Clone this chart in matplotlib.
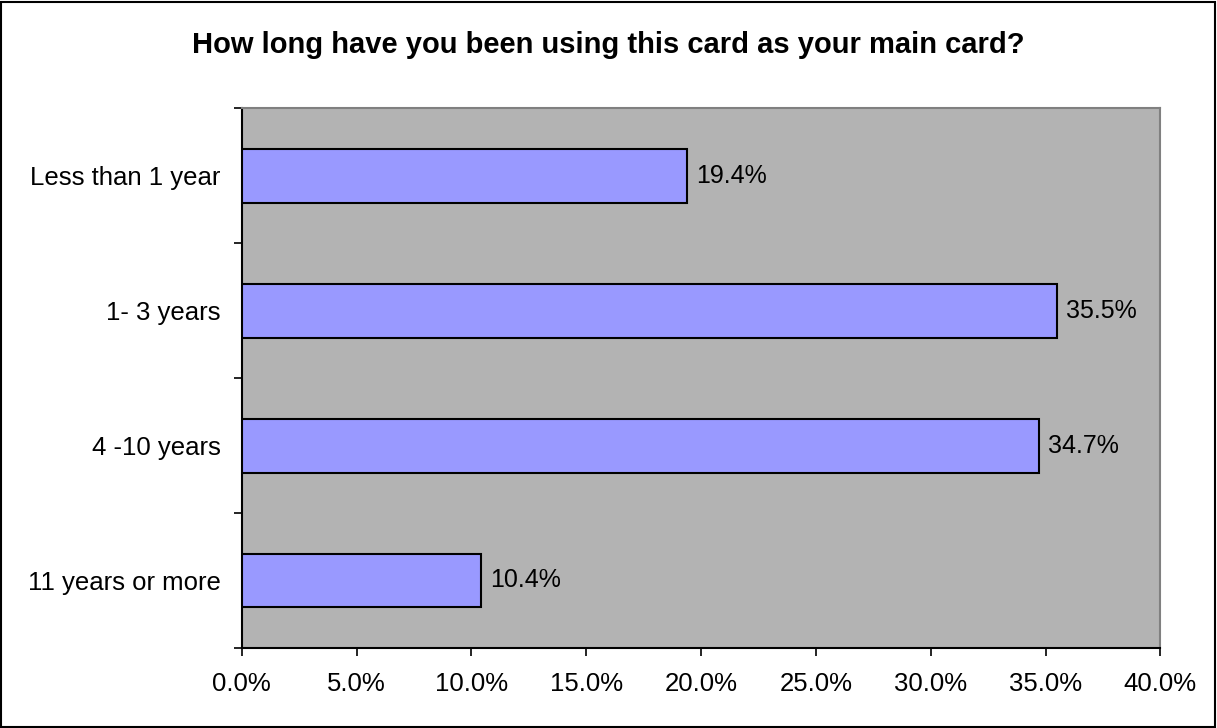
#卡片使用年限 問卷結果長條圖
import matplotlib.pyplot as plt
from matplotlib.patches import Rectangle
from matplotlib.ticker import FuncFormatter, MultipleLocator
import numpy as np

plt.rcParams['font.family'] = ['Liberation Sans', 'DejaVu Sans']

#資料
title = 'How long have you been using this card as your main card?'
categories = ['Less than 1 year', '1- 3 years', '4 -10 years', '11 years or more']
values = [19.4, 35.5, 34.7, 10.4]     #百分比

fig = plt.figure(figsize=(12.17, 7.28), dpi=100)
fig.patch.set_facecolor('white')
ax = fig.add_axes([0.1986, 0.1099, 0.7549, 0.7417])

#繪圖區底色
ax.set_facecolor('#B3B3B3')

y = np.arange(len(categories))
ax.barh(y, values, height=0.4, color='#9999FF', edgecolor='black', linewidth=1.5, zorder=3)

#標示數值
for yi, v in zip(y, values):
    ax.text(v + 0.4, yi, '%.1f%%' % v, va='center', ha='left', fontsize=18, color='black', zorder=4)

ax.set_ylim(len(categories) - 0.5, -0.5)
ax.set_xlim(0, 40)

#y軸 標籤在中間 刻度線在分界
ax.set_yticks(y)
ax.set_yticklabels(categories, fontsize=18.5)
ax.set_yticks(np.arange(-0.5, len(categories), 1), minor=True)
ax.tick_params(axis='y', which='major', length=0, pad=15)
ax.tick_params(axis='y', which='minor', length=6, width=1.2, color='black', direction='out')

#x軸 百分比
ax.xaxis.set_major_locator(MultipleLocator(5))
ax.xaxis.set_major_formatter(FuncFormatter(lambda x, pos: '%.1f%%' % x))
ax.tick_params(axis='x', which='major', length=6, width=1.2, labelsize=18.5, pad=11, direction='out')

#邊框
ax.spines['left'].set_color('black')
ax.spines['bottom'].set_color('black')
ax.spines['left'].set_linewidth(1.5)
ax.spines['bottom'].set_linewidth(1.5)
ax.spines['top'].set_color('#808080')
ax.spines['right'].set_color('#808080')
ax.spines['top'].set_linewidth(1.5)
ax.spines['right'].set_linewidth(1.5)

#標題
fig.text(0.5, 0.927, title, ha='center', va='baseline', fontsize=21, fontweight='bold')

#外框
fig.patches.append(Rectangle((0.001, 0.001), 0.997, 0.996, transform=fig.transFigure,
                             fill=False, edgecolor='black', linewidth=1.5))

fig.savefig('out.png', dpi=100)
